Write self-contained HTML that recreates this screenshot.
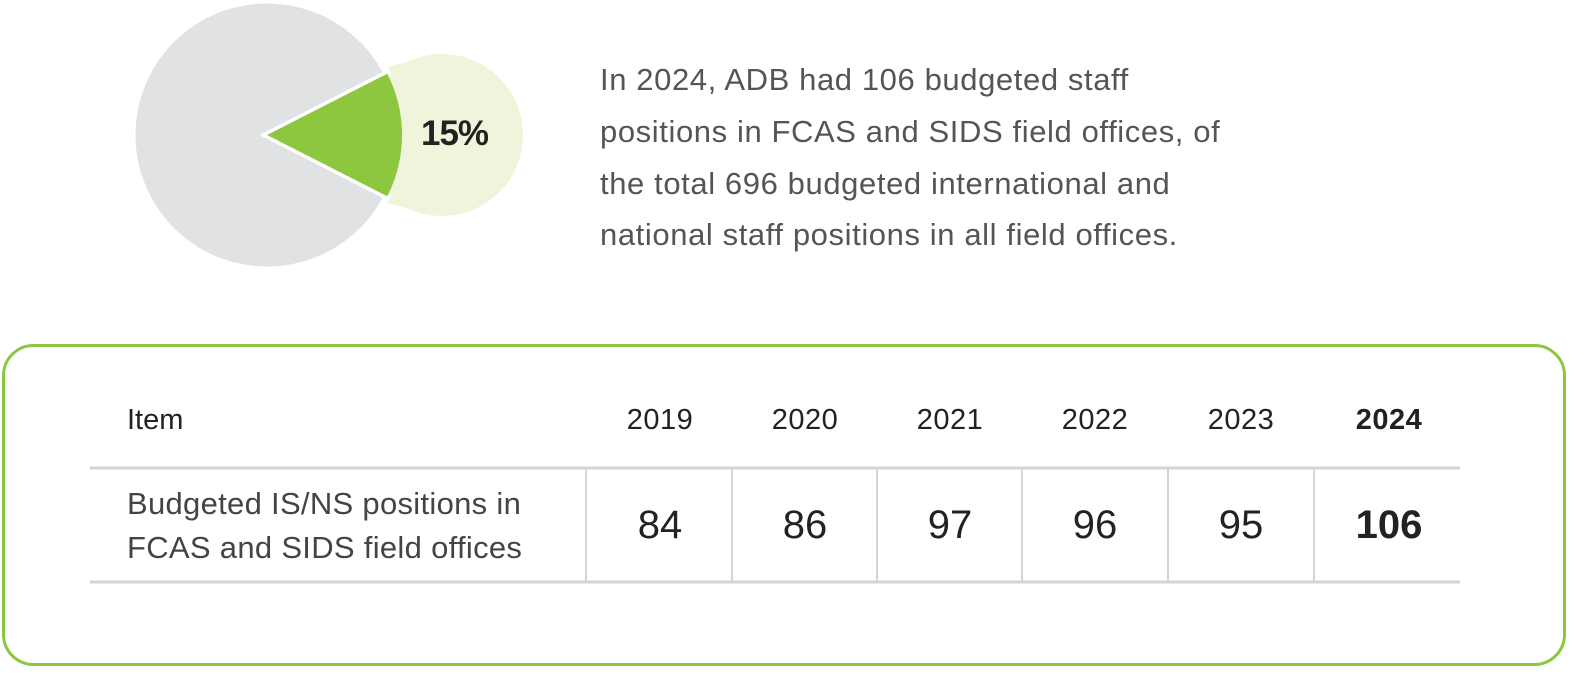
<!DOCTYPE html>
<html><head><style>
body{margin:0;width:1585px;height:676px;background:#fff;overflow:hidden;position:relative;font-family:"Liberation Sans",sans-serif;}
.t{position:absolute;white-space:nowrap;}
.p{left:600px;font-size:31px;color:#555;letter-spacing:0.6px}
.h{font-size:29px;color:#222;transform:translateX(-50%);letter-spacing:0.5px}
.v{font-size:40px;color:#222;transform:translateX(-50%)}
</style></head><body>
<svg width="1585" height="676" style="position:absolute;left:0;top:0">
<circle cx="442" cy="135" r="81" fill="#eff5da"/>
<polygon points="375,70 440,54 440,216 375,200" fill="#eff5da"/>
<path d="M267,135 L387.3,73.7 A135,135 0 1 0 387.3,196.3 Z" fill="#e1e2e4" stroke="#fff" stroke-width="7" stroke-linejoin="miter"/>
<path d="M267,135 L387.3,73.7 A135,135 0 0 1 387.3,196.3 Z" fill="#8dc63f"/>
<rect x="3.5" y="345.5" width="1561" height="319" rx="30" fill="none" stroke="#8dc63f" stroke-width="3"/>
<line x1="90" y1="468" x2="1460" y2="468" stroke="#d4d4d4" stroke-width="3"/>
<line x1="90" y1="582" x2="1460" y2="582" stroke="#d4d4d4" stroke-width="3"/>
<g stroke="#d4d4d4" stroke-width="2">
<line x1="586" y1="468" x2="586" y2="582"/><line x1="732" y1="468" x2="732" y2="582"/>
<line x1="877" y1="468" x2="877" y2="582"/><line x1="1022" y1="468" x2="1022" y2="582"/>
<line x1="1168" y1="468" x2="1168" y2="582"/><line x1="1314" y1="468" x2="1314" y2="582"/>
</g>
</svg>
<div class="t" style="left:421px;top:114px;font-size:35px;color:#222;font-weight:bold;letter-spacing:-1px">15%</div>
<div class="t p" style="top:62px">In 2024, ADB had 106 budgeted staff</div>
<div class="t p" style="top:114px">positions in FCAS and SIDS field offices, of</div>
<div class="t p" style="top:166px">the total 696 budgeted international and</div>
<div class="t p" style="top:217px">national staff positions in all field offices.</div>
<div class="t" style="left:127px;top:404px;font-size:29px;color:#222">Item</div>
<div class="t h" style="left:660px;top:404px">2019</div>
<div class="t h" style="left:805px;top:404px">2020</div>
<div class="t h" style="left:950px;top:404px">2021</div>
<div class="t h" style="left:1095px;top:404px">2022</div>
<div class="t h" style="left:1241px;top:404px">2023</div>
<div class="t h" style="left:1389px;top:404px;font-weight:bold">2024</div>
<div class="t" style="left:127px;top:482px;font-size:31px;color:#444;line-height:44px;letter-spacing:0.3px">Budgeted IS/NS positions in<br>FCAS and SIDS field offices</div>
<div class="t v" style="left:660px;top:503px">84</div>
<div class="t v" style="left:805px;top:503px">86</div>
<div class="t v" style="left:950px;top:503px">97</div>
<div class="t v" style="left:1095px;top:503px">96</div>
<div class="t v" style="left:1241px;top:503px">95</div>
<div class="t v" style="left:1389px;top:503px;font-weight:bold">106</div>
</body></html>
